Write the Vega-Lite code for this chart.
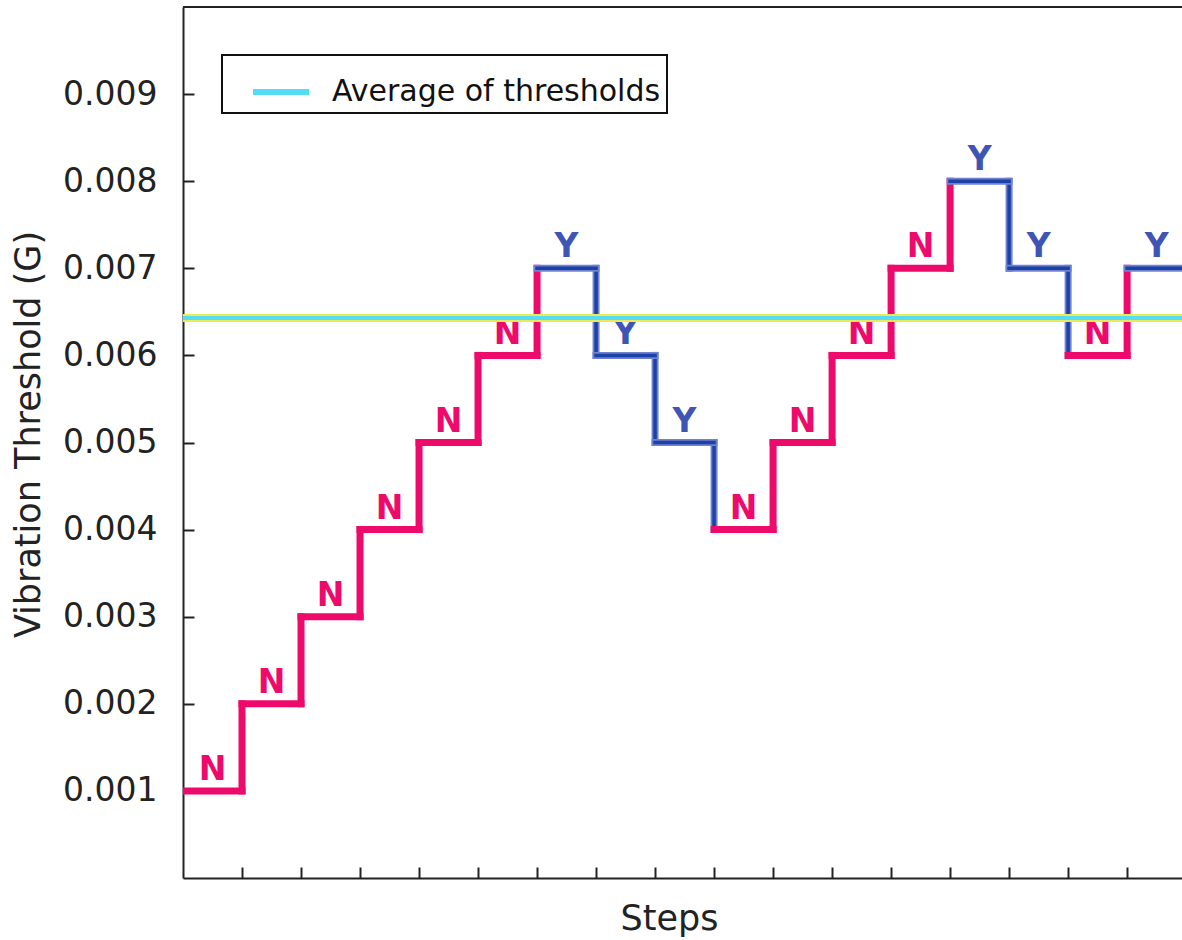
{
  "$schema": "https://vega.github.io/schema/vega-lite/v6.json",
  "autosize": "none",
  "width": 999,
  "height": 871,
  "padding": {"left": 183, "top": 7, "right": 0, "bottom": 62},
  "background": "white",
  "config": {
    "view": {"stroke": null},
    "font": "DejaVu Sans",
    "axis": {
      "grid": false,
      "domainColor": "#222222",
      "domainWidth": 2,
      "tickColor": "#222222",
      "tickWidth": 2,
      "tickSize": -11,
      "labelColor": "#222222",
      "labelFont": "DejaVu Sans",
      "labelFontSize": 33,
      "titleFont": "DejaVu Sans",
      "titleFontSize": 35,
      "titleFontWeight": "normal",
      "titleColor": "#222222"
    },
    "legend": {
      "orient": "none",
      "legendX": 39,
      "legendY": 48,
      "strokeColor": "#111111",
      "strokeWidth": 2,
      "fillColor": "white",
      "padding": 6,
      "symbolType": "stroke",
      "symbolSize": 3136,
      "symbolStrokeWidth": 6,
      "symbolOffset": 22,
      "labelFont": "DejaVu Sans",
      "labelFontSize": 30,
      "labelColor": "#111111",
      "labelOffset": 20,
      "labelLimit": 0
    }
  },
  "datasets": {
    "steps": [
      {"step": 0, "end": 1, "value": 0.001, "nextValue": 0.002, "response": "N"},
      {"step": 1, "end": 2, "value": 0.002, "nextValue": 0.003, "response": "N"},
      {"step": 2, "end": 3, "value": 0.003, "nextValue": 0.004, "response": "N"},
      {"step": 3, "end": 4, "value": 0.004, "nextValue": 0.005, "response": "N"},
      {"step": 4, "end": 5, "value": 0.005, "nextValue": 0.006, "response": "N"},
      {"step": 5, "end": 6, "value": 0.006, "nextValue": 0.007, "response": "N"},
      {"step": 6, "end": 7, "value": 0.007, "nextValue": 0.006, "response": "Y"},
      {"step": 7, "end": 8, "value": 0.006, "nextValue": 0.005, "response": "Y"},
      {"step": 8, "end": 9, "value": 0.005, "nextValue": 0.004, "response": "Y"},
      {"step": 9, "end": 10, "value": 0.004, "nextValue": 0.005, "response": "N"},
      {"step": 10, "end": 11, "value": 0.005, "nextValue": 0.006, "response": "N"},
      {"step": 11, "end": 12, "value": 0.006, "nextValue": 0.007, "response": "N"},
      {"step": 12, "end": 13, "value": 0.007, "nextValue": 0.008, "response": "N"},
      {"step": 13, "end": 14, "value": 0.008, "nextValue": 0.007, "response": "Y"},
      {"step": 14, "end": 15, "value": 0.007, "nextValue": 0.006, "response": "Y"},
      {"step": 15, "end": 16, "value": 0.006, "nextValue": 0.007, "response": "N"},
      {"step": 16, "end": 17, "value": 0.007, "nextValue": 0.007, "response": "Y"}
    ],
    "avg": [{"label": "Average of thresholds", "value": 0.00643}]
  },
  "layer": [
    {
      "data": {"name": "steps"},
      "mark": {"type": "rule", "strokeWidth": 7, "strokeCap": "square", "clip": true},
      "encoding": {
        "x": {"field": "end", "type": "quantitative",
              "scale": {"domain": [0, 16.93], "nice": false, "zero": false},
              "axis": {"values": [1,2,3,4,5,6,7,8,9,10,11,12,13,14,15,16], "labels": false, "title": "Steps", "titlePadding": 22, "titleX": 486}},
        "y": {"field": "value", "type": "quantitative",
              "scale": {"domain": [0, 0.01], "nice": false},
              "axis": {"values": [0.001,0.002,0.003,0.004,0.005,0.006,0.007,0.008,0.009], "format": ".3f", "labelPadding": 37, "title": "Vibration Threshold (G)", "titlePadding": 16, "titleY": 427}},
        "y2": {"field": "nextValue"},
        "stroke": {"field": "response", "type": "nominal", "scale": {"domain": ["N", "Y"], "range": ["#EE0A6B", "#6F81CF"]}, "legend": null}
      }
    },
    {
      "data": {"name": "steps"},
      "transform": [{"filter": "datum.response == 'Y'"}],
      "mark": {"type": "rule", "strokeWidth": 3.5, "strokeCap": "butt", "color": "#1D42A6", "clip": true},
      "encoding": {
        "x": {"field": "end", "type": "quantitative"},
        "y": {"field": "value", "type": "quantitative"},
        "y2": {"field": "nextValue"}
      }
    },
    {
      "data": {"name": "steps"},
      "mark": {"type": "rule", "strokeWidth": 7, "strokeCap": "square", "clip": true},
      "encoding": {
        "x": {"field": "step", "type": "quantitative"},
        "x2": {"field": "end"},
        "y": {"field": "value", "type": "quantitative"},
        "stroke": {"field": "response", "type": "nominal", "legend": null}
      }
    },
    {
      "data": {"name": "steps"},
      "transform": [{"filter": "datum.response == 'Y'"}],
      "mark": {"type": "rule", "strokeWidth": 3.5, "strokeCap": "square", "color": "#1D42A6", "clip": true},
      "encoding": {
        "x": {"field": "step", "type": "quantitative"},
        "x2": {"field": "end"},
        "y": {"field": "value", "type": "quantitative"}
      }
    },
    {
      "data": {"name": "steps"},
      "mark": {"type": "text", "font": "DejaVu Sans", "fontSize": 33, "fontWeight": "bold", "align": "center", "baseline": "alphabetic", "dx": 29.5, "dy": -11, "clip": true},
      "encoding": {
        "x": {"field": "step", "type": "quantitative"},
        "y": {"field": "value", "type": "quantitative"},
        "text": {"field": "response"},
        "fill": {"field": "response", "type": "nominal", "scale": {"domain": ["N", "Y"], "range": ["#EE0A6B", "#3F55B5"]}, "legend": null}
      }
    },
    {
      "data": {"name": "avg"},
      "mark": {"type": "rule", "strokeWidth": 2, "color": "#222222"},
      "encoding": {"y": {"datum": 0.01, "type": "quantitative"}}
    },
    {
      "data": {"name": "avg"},
      "mark": {"type": "rule", "strokeWidth": 8, "color": "#EEEA55"},
      "encoding": {"y": {"field": "value", "type": "quantitative"}}
    },
    {
      "data": {"name": "avg"},
      "mark": {"type": "rule", "strokeWidth": 4},
      "encoding": {
        "y": {"field": "value", "type": "quantitative"},
        "color": {"field": "label", "type": "nominal", "scale": {"range": ["#55DDF5"]}, "legend": {"title": null}}
      }
    }
  ]
}
